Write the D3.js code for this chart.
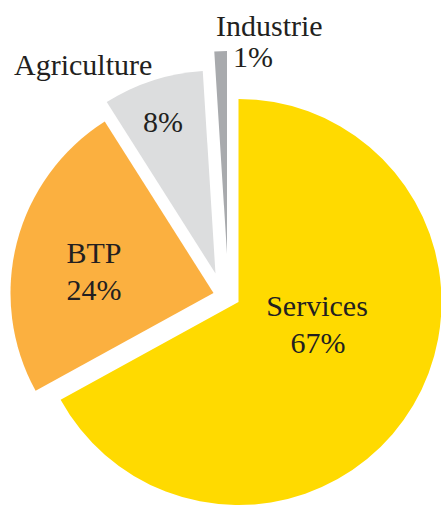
<!DOCTYPE html>
<html>
<head>
<meta charset="utf-8">
<script src="https://cdn.jsdelivr.net/npm/d3@7"></script>
<style>
  html, body { margin: 0; padding: 0; background: #fff; }
  svg { display: block; }
  text { font-family: "Liberation Serif", "Times New Roman", serif; fill: #231F20; }
</style>
</head>
<body>
<svg id="chart" width="441" height="506"></svg>
<script>
// Data
const categories = ["Services", "BTP", "Agriculture", "Industrie"];
const shares = [67, 24, 8, 1];
const pctLabels = ["67%", "24%", "8%", "1%"];

// Styling / layout
const colors = ["#FFDA00", "#FBB040", "#DCDDDE", "#A8AAAD"];
const center = [238.5, 302];
const radius = 203;
// per-slice explode offsets (dx, dy) relative to the pie centre
const offsets = [[0, 0], [-25, -9], [-23, -28.5], [-11.5, -48]];
// label layout: [x, y of name baseline, anchor, y of pct baseline, x of pct]
const labelLayout = [
  {nx: 317, ny: 316, px: 318, py: 353, anchor: "middle"},
  {nx: 94, ny: 263, px: 94, py: 300, anchor: "middle"},
  {nx: 14, ny: 75, px: 163, py: 132, anchor: "start", pAnchor: "middle"},
  {nx: 216, ny: 36, px: 233, py: 67, anchor: "start"}
];

const svg = d3.select("#chart");
const pie = d3.pie().sort(null).value(d => d)(shares);
const arc = d3.arc().innerRadius(0).outerRadius(radius);

const g = svg.append("g").attr("transform", `translate(${center[0]},${center[1]})`);

g.selectAll("path.slice")
  .data(pie)
  .join("path")
  .attr("class", "slice")
  .attr("transform", (d, i) => `translate(${offsets[i][0]},${offsets[i][1]})`)
  .attr("d", arc)
  .attr("fill", (d, i) => colors[i]);

const labels = svg.append("g").attr("font-size", 30);
categories.forEach((c, i) => {
  const L = labelLayout[i];
  labels.append("text")
    .attr("x", L.nx).attr("y", L.ny)
    .attr("text-anchor", L.anchor)
    .text(c);
  labels.append("text")
    .attr("x", L.px).attr("y", L.py)
    .attr("text-anchor", L.pAnchor || L.anchor)
    .text(pctLabels[i]);
});
</script>
</body>
</html>
